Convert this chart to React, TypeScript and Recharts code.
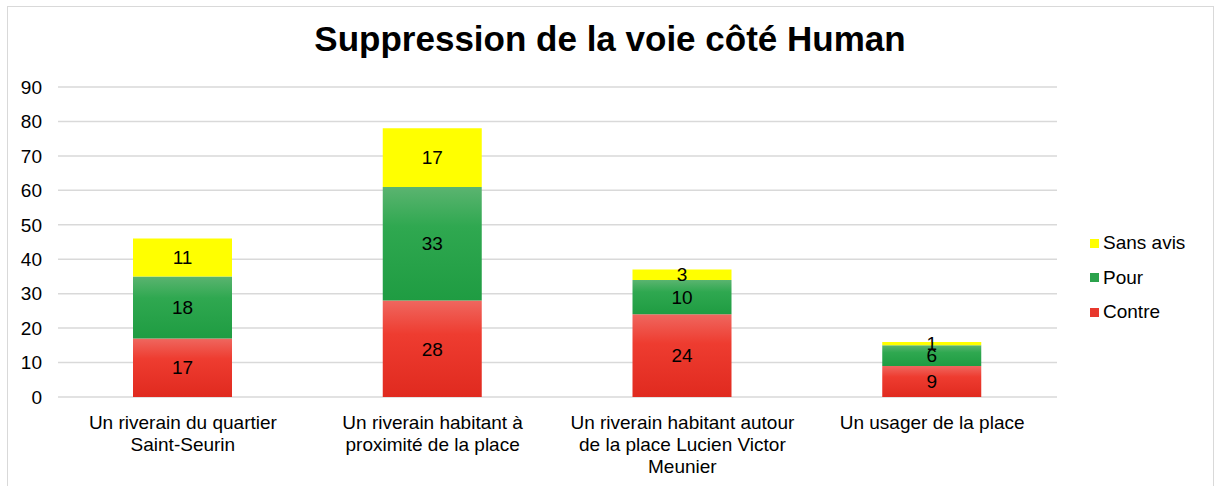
import { BarChart, Bar, XAxis, YAxis, CartesianGrid, LabelList } from "recharts";

const categories = [
  "Un riverain du quartier Saint-Seurin",
  "Un riverain habitant à proximité de la place",
  "Un riverain habitant autour de la place Lucien Victor Meunier",
  "Un usager de la place",
];
const tickLines = [
  ["Un riverain du quartier", "Saint-Seurin"],
  ["Un riverain habitant à", "proximité de la place"],
  ["Un riverain habitant autour", "de la place Lucien Victor", "Meunier"],
  ["Un usager de la place"],
];
const contre = [17, 28, 24, 9];
const pour = [18, 33, 10, 6];
const sansAvis = [11, 17, 3, 1];
const yTicks = [0, 10, 20, 30, 40, 50, 60, 70, 80, 90];

const series = [
  { key: "contre", name: "Contre", fill: "url(#gradContre)", swatch: "#e8382d" },
  { key: "pour", name: "Pour", fill: "url(#gradPour)", swatch: "#2ba24c" },
  { key: "sansAvis", name: "Sans avis", fill: "#ffff00", swatch: "#ffff00" },
];

const data = categories.map((c, i) => ({
  category: c,
  contre: contre[i],
  pour: pour[i],
  sansAvis: sansAvis[i],
}));

const FONT = "'Liberation Sans', Arial, Helvetica, sans-serif";

function CategoryTick(props: any) {
  const { x, y, payload } = props;
  const lines = tickLines[payload.index] || [payload.value];
  return (
    <text x={x} y={y} textAnchor="middle" fill="#000" fontSize={19} fontFamily={FONT}>
      {lines.map((l: string, i: number) => (
        <tspan key={i} x={x} dy={i === 0 ? 32 : 22}>
          {l}
        </tspan>
      ))}
    </text>
  );
}

export default function App() {
  return (
    <div style={{ position: "absolute", left: 0, top: 0, width: 1223, height: 486, background: "#fff", fontFamily: FONT, overflow: "hidden" }}>
      <div style={{ position: "absolute", left: 7, top: 6, width: 1205, height: 490, border: "1px solid #d9d9d9" }} />
      <div style={{ position: "absolute", left: 0, top: 19, width: 1220, textAlign: "center", fontSize: 35, fontWeight: "bold", color: "#000" }}>
        Suppression de la voie côté Human
      </div>
      <div style={{ position: "absolute", left: 0, top: 0 }}>
        <BarChart width={1223} height={486} data={data} margin={{ top: 87, right: 166, bottom: 9, left: 0 }}>
          <defs>
            <linearGradient id="gradContre" x1="0" y1="0" x2="0" y2="1">
              <stop offset="0%" stopColor="#ef675f" />
              <stop offset="35%" stopColor="#ee3c30" />
              <stop offset="100%" stopColor="#e02a1f" />
            </linearGradient>
            <linearGradient id="gradPour" x1="0" y1="0" x2="0" y2="1">
              <stop offset="0%" stopColor="#5bb470" />
              <stop offset="35%" stopColor="#2fa850" />
              <stop offset="100%" stopColor="#1f9c42" />
            </linearGradient>
          </defs>
          <CartesianGrid vertical={false} stroke="#d9d9d9" strokeWidth={1.5} />
          <XAxis dataKey="category" axisLine={false} tickLine={false} tickSize={0} tickMargin={0} height={80} interval={0} tick={<CategoryTick />} />
          <YAxis domain={[0, 90]} ticks={yTicks} interval={0} axisLine={false} tickLine={false} tickSize={0} tickMargin={16} width={58}
            tick={{ fill: "#000", fontSize: 19, fontFamily: FONT }} />
          {series.map((s) => (
            <Bar key={s.key} dataKey={s.key} name={s.name} stackId="a" fill={s.fill} barSize={99} isAnimationActive={false}>
              <LabelList dataKey={s.key} position="center" fill="#000" fontSize={19} fontFamily={FONT} />
            </Bar>
          ))}
        </BarChart>
      </div>
      <div style={{ position: "absolute", left: 1090, top: 226 }}>
        {[...series].reverse().map((s) => (
          <div key={s.key} style={{ display: "flex", alignItems: "center", height: 34.5, fontSize: 19, color: "#000" }}>
            <span style={{ display: "inline-block", width: 9, height: 9, background: s.swatch, marginRight: 4 }} />
            {s.name}
          </div>
        ))}
      </div>
    </div>
  );
}
